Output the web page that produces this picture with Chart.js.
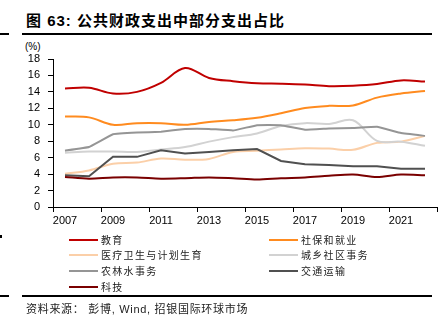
<!DOCTYPE html>
<html>
<head>
<meta charset="utf-8">
<script src="https://cdn.jsdelivr.net/npm/chart.js@4/dist/chart.umd.min.js"></script>
<style>
  html, body { margin: 0; padding: 0; background: #fff; }
  #wrap { position: relative; width: 447px; height: 335px; overflow: hidden;
          font-family: "Liberation Sans", "Noto Sans CJK SC", sans-serif; color: #000; }
  #chart { position: absolute; left: 0; top: 0; }
  .title { position: absolute; left: 26px; top: 11px; font-size: 15px; font-weight: bold;
           letter-spacing: 1px; line-height: 20px; white-space: nowrap; }
  .rule { position: absolute; height: 2px; background: #000; }
  .unit { position: absolute; left: 25px; top: 41px; font-size: 10px; line-height: 12px; }
  .lg { position: absolute; height: 16px; display: flex; align-items: center; white-space: nowrap; }
  .lg .sw { width: 29px; height: 2px; margin-right: 3px; }
  .lg .tx { font-family: "Noto Sans CJK SC", sans-serif; font-size: 10px; letter-spacing: 1.3px; color: #222; line-height: 16px; }
  .src { position: absolute; left: 26px; top: 301px; font-size: 11px; letter-spacing: 0.7px;
         line-height: 16px; white-space: nowrap; color: #222; }
</style>
</head>
<body>
<div id="wrap">
  <div class="title">图 63: 公共财政支出中部分支出占比</div>
  <div class="rule" style="left:22px;width:410px;top:33px;"></div>
  <div class="rule" style="left:0;width:9px;top:33px;"></div>
  <div class="unit">(%)</div>
  <canvas id="chart" width="447" height="335"></canvas>
  <div id="legend"></div>
  <div class="rule" style="left:0;width:2px;top:235px;height:3px;"></div>
  <div class="rule" style="left:22px;width:410px;top:295px;"></div>
  <div class="rule" style="left:0;width:9px;top:295px;"></div>
  <div class="src">资料来源： 彭博, Wind, 招银国际环球市场</div>
</div>
<script>
// Years on the category axis
const years = ['2007','2008','2009','2010','2011','2012','2013','2014',
               '2015','2016','2017','2018','2019','2020','2021','2022'];

// Share of public fiscal expenditure, %
const education      = [14.4, 14.5, 13.8, 14.0, 15.1, 16.9, 15.7, 15.3, 15.05, 15.0, 14.9, 14.7, 14.75, 14.95, 15.4, 15.25];
const socialSecurity = [11.0, 10.9, 10.0, 10.2, 10.2, 10.0, 10.35, 10.55, 10.85, 11.4, 12.05, 12.3, 12.35, 13.3, 13.8, 14.1];
const healthCare     = [4.05, 4.45, 5.25, 5.4, 5.9, 5.75, 5.85, 6.7, 6.85, 7.0, 7.15, 7.1, 6.95, 7.8, 7.95, 8.65];
const urbanRural     = [6.6, 6.75, 6.75, 6.7, 7.0, 7.3, 7.95, 8.5, 8.95, 9.85, 10.2, 10.1, 10.55, 8.05, 7.95, 7.45];
const agriculture    = [6.85, 7.3, 8.85, 9.05, 9.15, 9.5, 9.5, 9.3, 9.95, 9.95, 9.4, 9.55, 9.6, 9.75, 9.0, 8.65];
const transport      = [3.85, 3.75, 6.1, 6.1, 6.9, 6.5, 6.7, 6.9, 7.05, 5.6, 5.2, 5.1, 4.95, 4.95, 4.65, 4.65];
const sciTech        = [3.65, 3.45, 3.6, 3.6, 3.45, 3.5, 3.6, 3.5, 3.35, 3.5, 3.6, 3.8, 3.95, 3.65, 3.95, 3.85];

const seriesNames  = ['教育', '社保和就业', '医疗卫生与计划生育', '城乡社区事务', '农林水事务', '交通运输', '科技'];
const seriesData   = [education, socialSecurity, healthCare, urbanRural, agriculture, transport, sciTech];
const seriesColors = ['#C00000', '#FF8B1F', '#FBCFA8', '#D2D2D2', '#959595', '#505050', '#7A0000'];
const seriesTension = [0.35, 0.35, 0.35, 0.35, 0.05, 0.0, 0.3];

const datasets = seriesNames.map((name, i) => ({
  label: name,
  data: seriesData[i],
  borderColor: seriesColors[i],
  backgroundColor: seriesColors[i],
  borderWidth: 2,
  pointRadius: 0,
  tension: seriesTension[i],
  fill: false,
  order: seriesNames.length - i   // later series sit on top
}));

const tickFont = { family: 'Liberation Sans', size: 11 };

new Chart(document.getElementById('chart'), {
  type: 'line',
  data: { labels: years, datasets },
  options: {
    responsive: false,
    animation: false,
    devicePixelRatio: 1,
    layout: { padding: { left: 0, right: 10, top: 59, bottom: 103 } },
    plugins: { legend: { display: false }, tooltip: { enabled: false } },
    scales: {
      x: {
        type: 'category',
        offset: true,
        afterFit: s => { s.height = 25; },
        grid: {
          offset: true,
          drawOnChartArea: false,
          drawTicks: true,
          tickLength: 5,
          tickColor: ctx => (ctx.index === undefined || ctx.index % 2 === 0) ? '#000' : 'rgba(0,0,0,0)'
        },
        border: { display: true, color: '#000', width: 1 },
        ticks: {
          autoSkip: false,
          maxRotation: 0,
          padding: 2,
          color: '#000',
          font: tickFont,
          callback: function (val, idx) { return idx % 2 === 0 ? this.getLabelForValue(val) : ''; }
        }
      },
      y: {
        min: 0,
        max: 18,
        afterFit: s => { s.width = 53; },
        grid: { drawOnChartArea: false, drawTicks: true, tickLength: 5, tickColor: '#000' },
        border: { display: true, color: '#000', width: 1 },
        ticks: { stepSize: 2, padding: 8, color: '#000', font: tickFont }
      }
    }
  }
});

// Two-column legend below the plot
const legend = document.getElementById('legend');
const colX = [69, 269];
const rowY = [231.5, 247, 263, 278.5];
seriesNames.forEach((name, i) => {
  const item = document.createElement('div');
  item.className = 'lg';
  item.style.left = colX[i % 2] + 'px';
  item.style.top = rowY[Math.floor(i / 2)] + 'px';
  const sw = document.createElement('span');
  sw.className = 'sw';
  sw.style.background = seriesColors[i];
  const tx = document.createElement('span');
  tx.className = 'tx';
  tx.textContent = name;
  item.appendChild(sw);
  item.appendChild(tx);
  legend.appendChild(item);
});
</script>
</body>
</html>
